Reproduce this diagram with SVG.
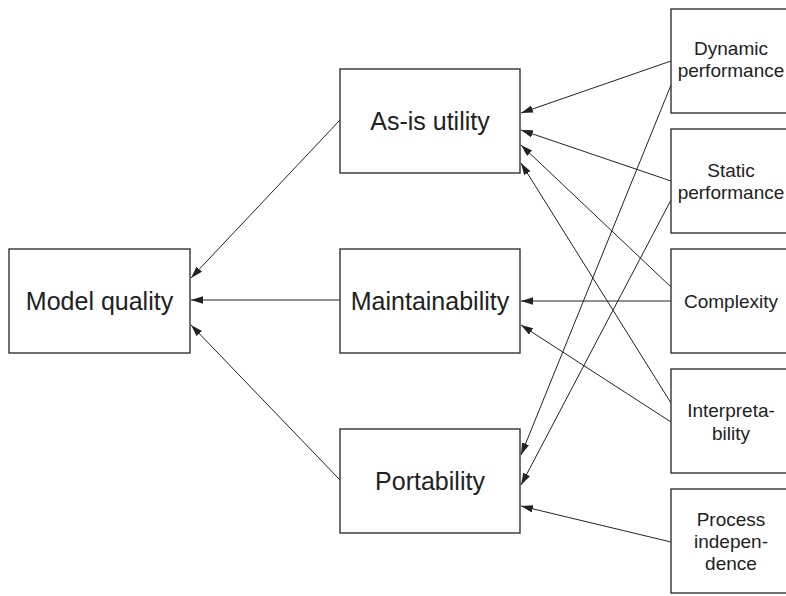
<svg xmlns="http://www.w3.org/2000/svg" width="786" height="596" viewBox="0 0 786 596">
  <style>
    .box { fill: #ffffff; stroke: #333333; stroke-width: 1.4; }
    .big { font-family: "Liberation Sans", Arial, sans-serif; font-size: 25px; fill: #222222; text-anchor: middle; }
    .small { font-family: "Liberation Sans", Arial, sans-serif; font-size: 19px; fill: #222222; text-anchor: middle; }
    .edge { stroke: #222222; stroke-width: 1; fill: none; marker-end: url(#arrow); }
  </style>
  <defs>
    <marker id="arrow" markerUnits="userSpaceOnUse" markerWidth="13" markerHeight="8" refX="12" refY="3.75" orient="auto">
      <path d="M0,0 L12,3.75 L0,7.5 z" fill="#222222"/>
    </marker>
  </defs>
  <rect width="786" height="596" fill="#ffffff"/>

  <g id="connectors">
    <line class="edge" x1="340" y1="120" x2="191" y2="278"/>
    <line class="edge" x1="340" y1="300" x2="191" y2="300"/>
    <line class="edge" x1="340" y1="480" x2="191" y2="325"/>
    <line class="edge" x1="671" y1="61" x2="521" y2="113"/>
    <line class="edge" x1="671" y1="85" x2="521" y2="455"/>
    <line class="edge" x1="671" y1="181" x2="521" y2="130"/>
    <line class="edge" x1="671" y1="200" x2="521" y2="485"/>
    <line class="edge" x1="671" y1="287" x2="521" y2="145"/>
    <line class="edge" x1="671" y1="301" x2="521" y2="301"/>
    <line class="edge" x1="671" y1="403" x2="521" y2="163"/>
    <line class="edge" x1="671" y1="422" x2="521" y2="325"/>
    <line class="edge" x1="671" y1="542" x2="521" y2="506"/>
  </g>

  <g id="model-quality">
    <rect class="box" x="9" y="249" width="181" height="104"/>
    <text class="big" x="99.5" y="309.5">Model quality</text>
  </g>
  <g id="as-is-utility">
    <rect class="box" x="340" y="69" width="180" height="104"/>
    <text class="big" x="430" y="129.5">As-is utility</text>
  </g>
  <g id="maintainability">
    <rect class="box" x="340" y="249" width="180" height="104"/>
    <text class="big" x="430" y="309.5">Maintainability</text>
  </g>
  <g id="portability">
    <rect class="box" x="340" y="429" width="180" height="104"/>
    <text class="big" x="430" y="489.5">Portability</text>
  </g>

  <g id="dynamic-performance">
    <rect class="box" x="671" y="9" width="120" height="104"/>
    <text class="small" x="731" y="55">Dynamic</text>
    <text class="small" x="731" y="77">performance</text>
  </g>
  <g id="static-performance">
    <rect class="box" x="671" y="129" width="120" height="104"/>
    <text class="small" x="731" y="177">Static</text>
    <text class="small" x="731" y="199">performance</text>
  </g>
  <g id="complexity">
    <rect class="box" x="671" y="249" width="120" height="104"/>
    <text class="small" x="731" y="307.5">Complexity</text>
  </g>
  <g id="interpretability">
    <rect class="box" x="671" y="369" width="120" height="104"/>
    <text class="small" x="731" y="417">Interpreta-</text>
    <text class="small" x="731" y="440">bility</text>
  </g>
  <g id="process-independence">
    <rect class="box" x="671" y="489" width="120" height="104"/>
    <text class="small" x="731" y="526">Process</text>
    <text class="small" x="731" y="548">indepen-</text>
    <text class="small" x="731" y="570">dence</text>
  </g>
</svg>
